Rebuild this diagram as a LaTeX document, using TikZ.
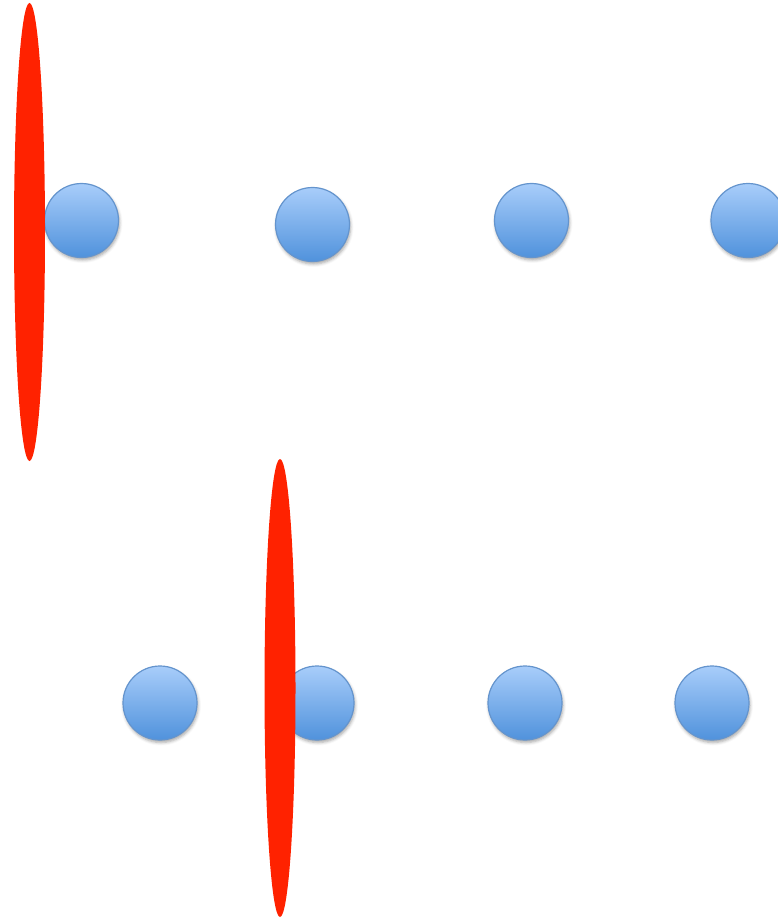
\documentclass[tikz,border=0pt]{standalone}
\usepackage{tikz}
\usetikzlibrary{shapes.geometric,shadows.blur}
\definecolor{dotTop}{RGB}{168,205,250}
\definecolor{dotBottom}{RGB}{80,146,220}
\definecolor{dotEdge}{RGB}{100,148,205}
\definecolor{barRed}{RGB}{255,34,0}
\begin{document}
\begin{tikzpicture}[x=1pt,y=-1pt,
    dot/.style={
        circle,
        minimum size=74pt,
        inner sep=0pt,
        top color=dotTop,
        bottom color=dotBottom,
        draw=dotEdge,
        line width=1.2pt,
        blur shadow={shadow xshift=1pt,shadow yshift=-2.5pt,shadow blur radius=3pt,shadow opacity=35}
    },
    bar/.style={
        ellipse,
        minimum width=31pt,
        minimum height=458pt,
        inner sep=0pt,
        fill=barRed,
        draw=none
    }
]
\useasboundingbox (0,0) rectangle (778,920);

% top row
\node[dot] (t1) at (81.5,220.5) {};
\node[dot] (t2) at (312.5,224.5) {};
\node[dot] (t3) at (531.5,220.5) {};
\node[dot] (t4) at (748,220.5) {};

% bottom row
\node[dot] (b1) at (160,703) {};
\node[dot] (b2) at (317,703) {};
\node[dot] (b3) at (525,703) {};
\node[dot] (b4) at (712,703) {};

% cuts
\node[bar] (cutTop) at (29.5,232) {};
\node[bar] (cutBottom) at (280,688) {};
\end{tikzpicture}
\end{document}
